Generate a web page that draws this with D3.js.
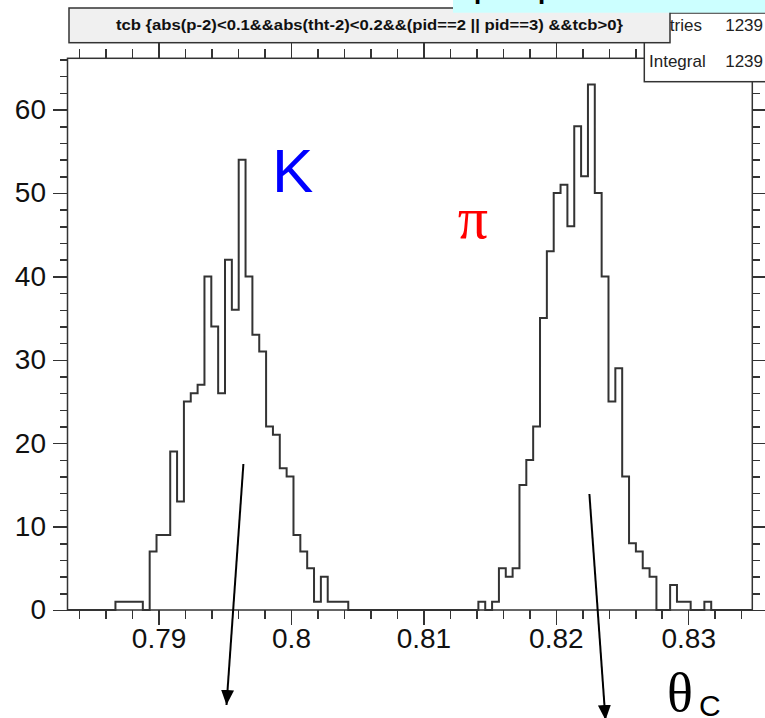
<!DOCTYPE html>
<meta charset="utf-8">
<head>
<style>
body { margin: 0; background: #fff; }
svg { display: block; font-family: 'Liberation Sans', Arial, Helvetica, sans-serif; }
.axis path { display: none; }
.axis line { stroke: #333; stroke-width: 1.5; shape-rendering: crispEdges; }
.axis text { font-size: 28px; fill: #111; font-family: 'Liberation Sans', Arial, sans-serif; }
.frame { fill: none; stroke: #333; stroke-width: 1.5; }
.hist { fill: none; stroke: #333; stroke-width: 2; }
</style>
</head>
<body>
<div id="chart"></div>
<script src="https://d3js.org/d3.v7.min.js"></script>
<script>

// 100 bins between xLow and xHigh, counts
var counts = [
  0, 0, 0, 0, 0, 0, 0, 1, 1, 1,
  1, 0, 7, 9, 9, 19, 13, 25, 26, 27,
  40, 34, 26, 42, 36, 54, 40, 33, 31, 22,
  21, 17, 16, 9, 7, 5, 1, 4, 1, 1,
  1, 0, 0, 0, 0, 0, 0, 0, 0, 0,
  0, 0, 0, 0, 0, 0, 0, 0, 0, 0,
  1, 0, 1, 5, 4, 5, 15, 18, 22, 35,
  43, 50, 51, 46, 58, 52, 63, 50, 40, 25,
  29, 16, 8, 7, 5, 4, 0, 0, 3, 1,
  1, 0, 0, 1, 0, 0, 0, 0, 0, 0
];
var xLow = 0.78312, xHigh = 0.83484;
var yMax = 66.15;

var xMajor = [0.79, 0.80, 0.81, 0.82, 0.83];
var xLabels = ["0.79", "0.8", "0.81", "0.82", "0.83"];
var xMinor = d3.range(0.784, 0.8345, 0.002);
var yMajor = [0, 10, 20, 30, 40, 50, 60];
var yMinor = d3.range(0, 66.5, 2);

var title = "tcb {abs(p-2)<0.1&&abs(tht-2)<0.2&&(pid==2 || pid==3) &&tcb>0}";
var statNames = ["Entries", "Integral"];
var statValues = [1239, 1239];

var margin = {top: 58.3, left: 67.5},
    width = 684.8,
    height = 551.7;

var svg = d3.select("#chart").append("svg")
    .attr("width", 765)
    .attr("height", 718);

var g = svg.append("g")
    .attr("transform", "translate(" + margin.left + "," + margin.top + ")");

var x = d3.scaleLinear().domain([xLow, xHigh]).range([0, width]);
var y = d3.scaleLinear().domain([0, yMax]).range([height, 0]);

// frame
g.append("rect").attr("class", "frame")
    .attr("width", width).attr("height", height).attr("fill", "#fff");

// ticks, all pointing outward
function addAxis(axisFn, values, size, tr, fmt, pad) {
  var a = axisFn.tickValues(values).tickSize(size).tickPadding(pad || 3);
  a.tickFormat(fmt || function() { return ""; });
  g.append("g").attr("class", "axis").attr("transform", tr).call(a);
}
addAxis(d3.axisBottom(x), xMinor, 9, "translate(0," + height + ")");
addAxis(d3.axisBottom(x), xMajor, 15, "translate(0," + height + ")",
    function(d, i) { return xLabels[i]; }, 3);
addAxis(d3.axisTop(x), xMinor, 9, "translate(0,0)");
addAxis(d3.axisTop(x), xMajor, 15, "translate(0,0)");
addAxis(d3.axisLeft(y), yMinor, 8, "translate(0,0)");
addAxis(d3.axisLeft(y), yMajor, 15, "translate(0,0)", d3.format("d"), 6.5);
addAxis(d3.axisRight(y), yMinor, 8, "translate(" + width + ",0)");
addAxis(d3.axisRight(y), yMajor, 15, "translate(" + width + ",0)");

// histogram outline
var bw = (xHigh - xLow) / counts.length;
var pts = [[xLow, 0]];
counts.forEach(function(c, i) {
  pts.push([xLow + i * bw, c]);
  pts.push([xLow + (i + 1) * bw, c]);
});
pts.push([xHigh, 0]);
g.append("path").attr("class", "hist")
    .attr("d", d3.line().x(function(d) { return x(d[0]); }).y(function(d) { return y(d[1]); })(pts));

// stats box
svg.append("rect")
    .attr("x", 644.3).attr("y", 13).attr("width", 140).attr("height", 68.7)
    .attr("fill", "#fff").attr("stroke", "#333").attr("stroke-width", 1.5);
statNames.forEach(function(s, i) {
  svg.append("text").attr("x", 649).attr("y", 30.5 + i * 36)
      .attr("font-size", 17).attr("fill", "#222").text(s);
  svg.append("text").attr("x", 763).attr("y", 30.5 + i * 36)
      .attr("font-size", 17).attr("fill", "#222").attr("text-anchor", "end").text(statValues[i]);
});

// title box
svg.append("rect")
    .attr("x", 69).attr("y", 8).attr("width", 601).attr("height", 34.7)
    .attr("fill", "#f0f0f0").attr("stroke", "#333").attr("stroke-width", 1.5);
svg.append("text")
    .attr("x", 369.5).attr("y", 30)
    .attr("text-anchor", "middle")
    .attr("font-size", 15).attr("font-weight", "bold").attr("fill", "#111")
    .attr("textLength", 507).attr("lengthAdjust", "spacingAndGlyphs")
    .text(title);

// cyan slide-title band, cut off at the top
svg.append("rect")
    .attr("x", 453).attr("y", 0).attr("width", 312).attr("height", 12.7)
    .attr("fill", "#ccffff");
svg.append("text").attr("x", 474).attr("y", -1.5)
    .attr("font-size", 26).attr("font-weight", "bold").text("p");
svg.append("text").attr("x", 538).attr("y", -1.5)
    .attr("font-size", 26).attr("font-weight", "bold").text("p");

// annotations
svg.append("text").attr("x", 272).attr("y", 191.7)
    .attr("font-size", 62).attr("fill", "#0000ff").text("K");
svg.append("text").attr("x", 488).attr("y", 238)
    .attr("text-anchor", "end")
    .attr("font-family", "'Liberation Serif', 'DejaVu Serif', serif")
    .attr("font-size", 60).attr("fill", "#ff0000").text("π");
svg.append("text").attr("x", 667).attr("y", 711)
    .attr("font-family", "'Liberation Serif', 'DejaVu Serif', serif")
    .attr("font-size", 54).attr("fill", "#000").text("θ");
svg.append("text").attr("x", 699).attr("y", 716)
    .attr("font-size", 30).attr("fill", "#000").text("C");

// arrows
svg.append("defs").append("marker")
    .attr("id", "head")
    .attr("markerUnits", "userSpaceOnUse")
    .attr("markerWidth", 16).attr("markerHeight", 14)
    .attr("refX", 15).attr("refY", 6.5)
    .attr("orient", "auto")
  .append("path")
    .attr("d", "M0,0 L15,6.5 L0,13 Z")
    .attr("fill", "#000");

var arrows = [[243.4, 464, 226.5, 705], [589.4, 494, 605.5, 720]];
arrows.forEach(function(a) {
  svg.append("line")
      .attr("x1", a[0]).attr("y1", a[1]).attr("x2", a[2]).attr("y2", a[3])
      .attr("stroke", "#000").attr("stroke-width", 2)
      .attr("marker-end", "url(#head)");
});

</script>
</body>
